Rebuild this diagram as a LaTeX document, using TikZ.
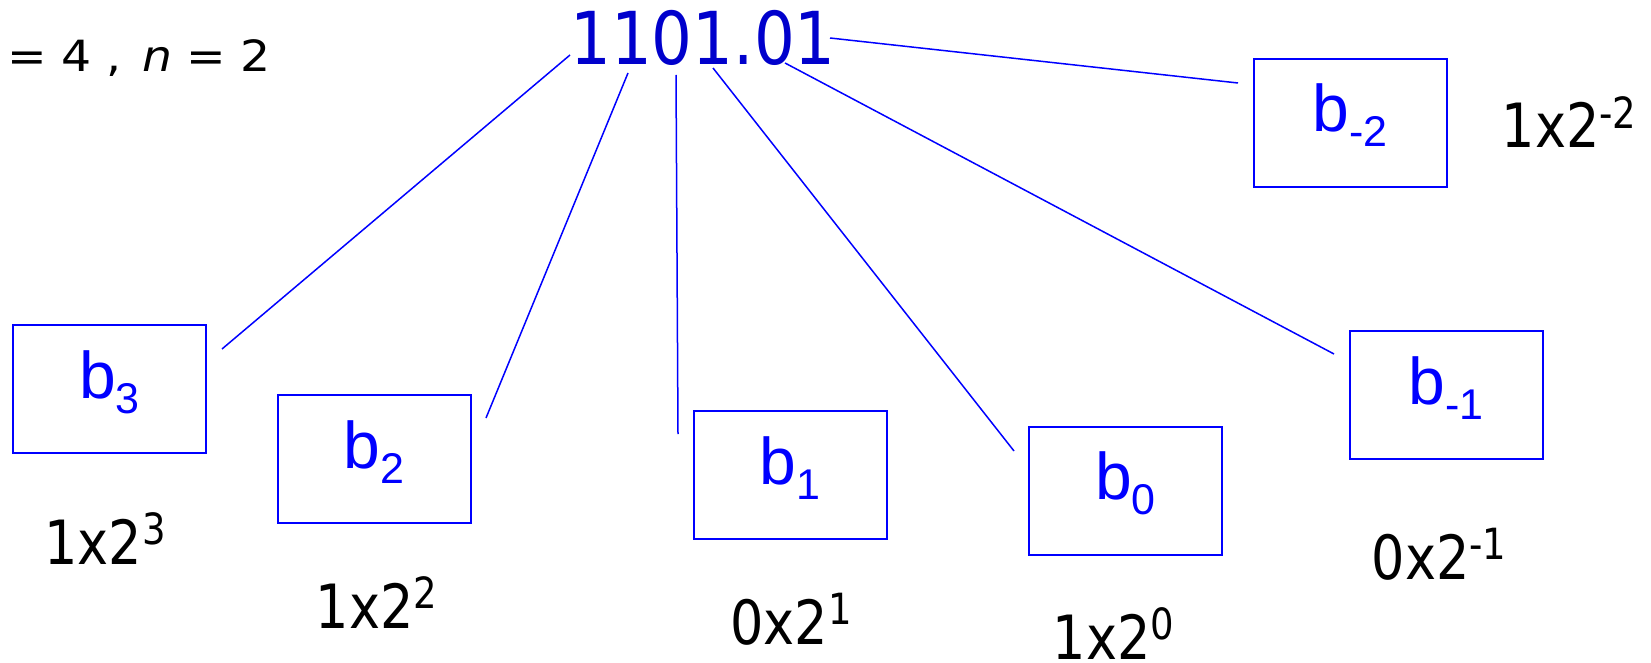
\documentclass[tikz,border=0pt]{standalone}
\usepackage{fontspec}
\setmainfont{DejaVu Sans}[FakeStretch=0.86]
\newfontfamily\widefont{DejaVu Sans}[FakeStretch=1.1]
\newfontfamily\numfont{DejaVu Sans}[FakeStretch=0.88]
\newfontfamily\labfont{Liberation Sans}
\definecolor{lineblue}{RGB}{0,0,255}
\definecolor{numblue}{RGB}{0,0,204}
\newcommand\upsc[1]{\raisebox{19.5pt}{\fontsize{43}{43}\selectfont #1}}
\newcommand\dnsc[1]{\raisebox{-15pt}{\fontsize{43}{43}\selectfont #1}}
\begin{document}
\begin{tikzpicture}[x=1pt,y=-1pt,
  bitbox/.style={draw=lineblue, line width=2pt, minimum width=193pt, minimum height=128pt, inner sep=0pt},
  bitlab/.style={anchor=base, inner sep=0pt, text=lineblue, font=\labfont\fontsize{66}{66}\selectfont},
  val/.style={anchor=base, inner sep=0pt, font=\fontsize{61}{61}\selectfont},
  conn/.style={draw=lineblue, line width=1.5pt}]
\useasboundingbox (0,0) rectangle (1651,663);

% top texts
\node[anchor=base, inner sep=0pt, font=\widefont\fontsize{43}{43}\selectfont] (given) at (141.25,72) {\makebox[0pt]{=}\hspace{49.5pt}\makebox[0pt]{4}\hspace{37.5pt}\makebox[0pt]{,}\hspace{43pt}\makebox[0pt]{\itshape n}\hspace{49pt}\makebox[0pt]{=}\hspace{49.5pt}\makebox[0pt]{2}};
\node[anchor=base, inner sep=0pt, text=numblue, font=\numfont\fontsize{73}{73}\selectfont] (num) at (703,65) {1101.01};

% boxes
\node[bitbox] (b3) at (109.5,389) {};
\node[bitbox] (b2) at (374,459) {};
\node[bitbox] (b1) at (790,475) {};
\node[bitbox] (b0) at (1125.5,490.5) {};
\node[bitbox] (bm1) at (1446,395) {};
\node[bitbox] (bm2) at (1350,123) {};

% box labels
\node[bitlab] (l3) at ([yshift=-9pt]b3.center) {b\dnsc{3}};
\node[bitlab] (l2) at ([yshift=-9pt]b2.center) {b\dnsc{2}};
\node[bitlab] (l1) at ([yshift=-9pt]b1.center) {b\dnsc{1}};
\node[bitlab] (l0) at ([yshift=-9pt]b0.center) {b\dnsc{0}};
\node[bitlab] (lm1) at ([yshift=-9pt]bm1.center) {b\dnsc{-1}};
\node[bitlab] (lm2) at ([yshift=-9pt]bm2.center) {b\dnsc{-2}};

% values
\node[val] (v3) at (105,564) {1x2\upsc{3}};
\node[val] (v2) at (376.5,628) {1x2\upsc{2}};
\node[val] (v1) at (791,644) {0x2\upsc{1}};
\node[val] (v0) at (1113.5,659) {1x2\upsc{0}};
\node[val] (vm1) at (1439,579) {0x2\upsc{-1}};
\node[val] (vm2) at (1569,148) {1x2\upsc{-2}};

% connector end points
\coordinate (s3) at (570,55);   \coordinate (e3) at (222,349);
\coordinate (s2) at (628,73);   \coordinate (e2) at (486,418);
\coordinate (s1) at (676,75);   \coordinate (e1) at (678,434);
\coordinate (s0) at (713,68);   \coordinate (e0) at (1014,451);
\coordinate (sm1) at (785,63);  \coordinate (em1) at (1334,354);
\coordinate (sm2) at (830,38);  \coordinate (em2) at (1238,83);

\draw[conn] (s3) -- (e3);
\draw[conn] (s2) -- (e2);
\draw[conn] (s1) -- (e1);
\draw[conn] (s0) -- (e0);
\draw[conn] (sm1) -- (em1);
\draw[conn] (sm2) -- (em2);
\end{tikzpicture}
\end{document}
